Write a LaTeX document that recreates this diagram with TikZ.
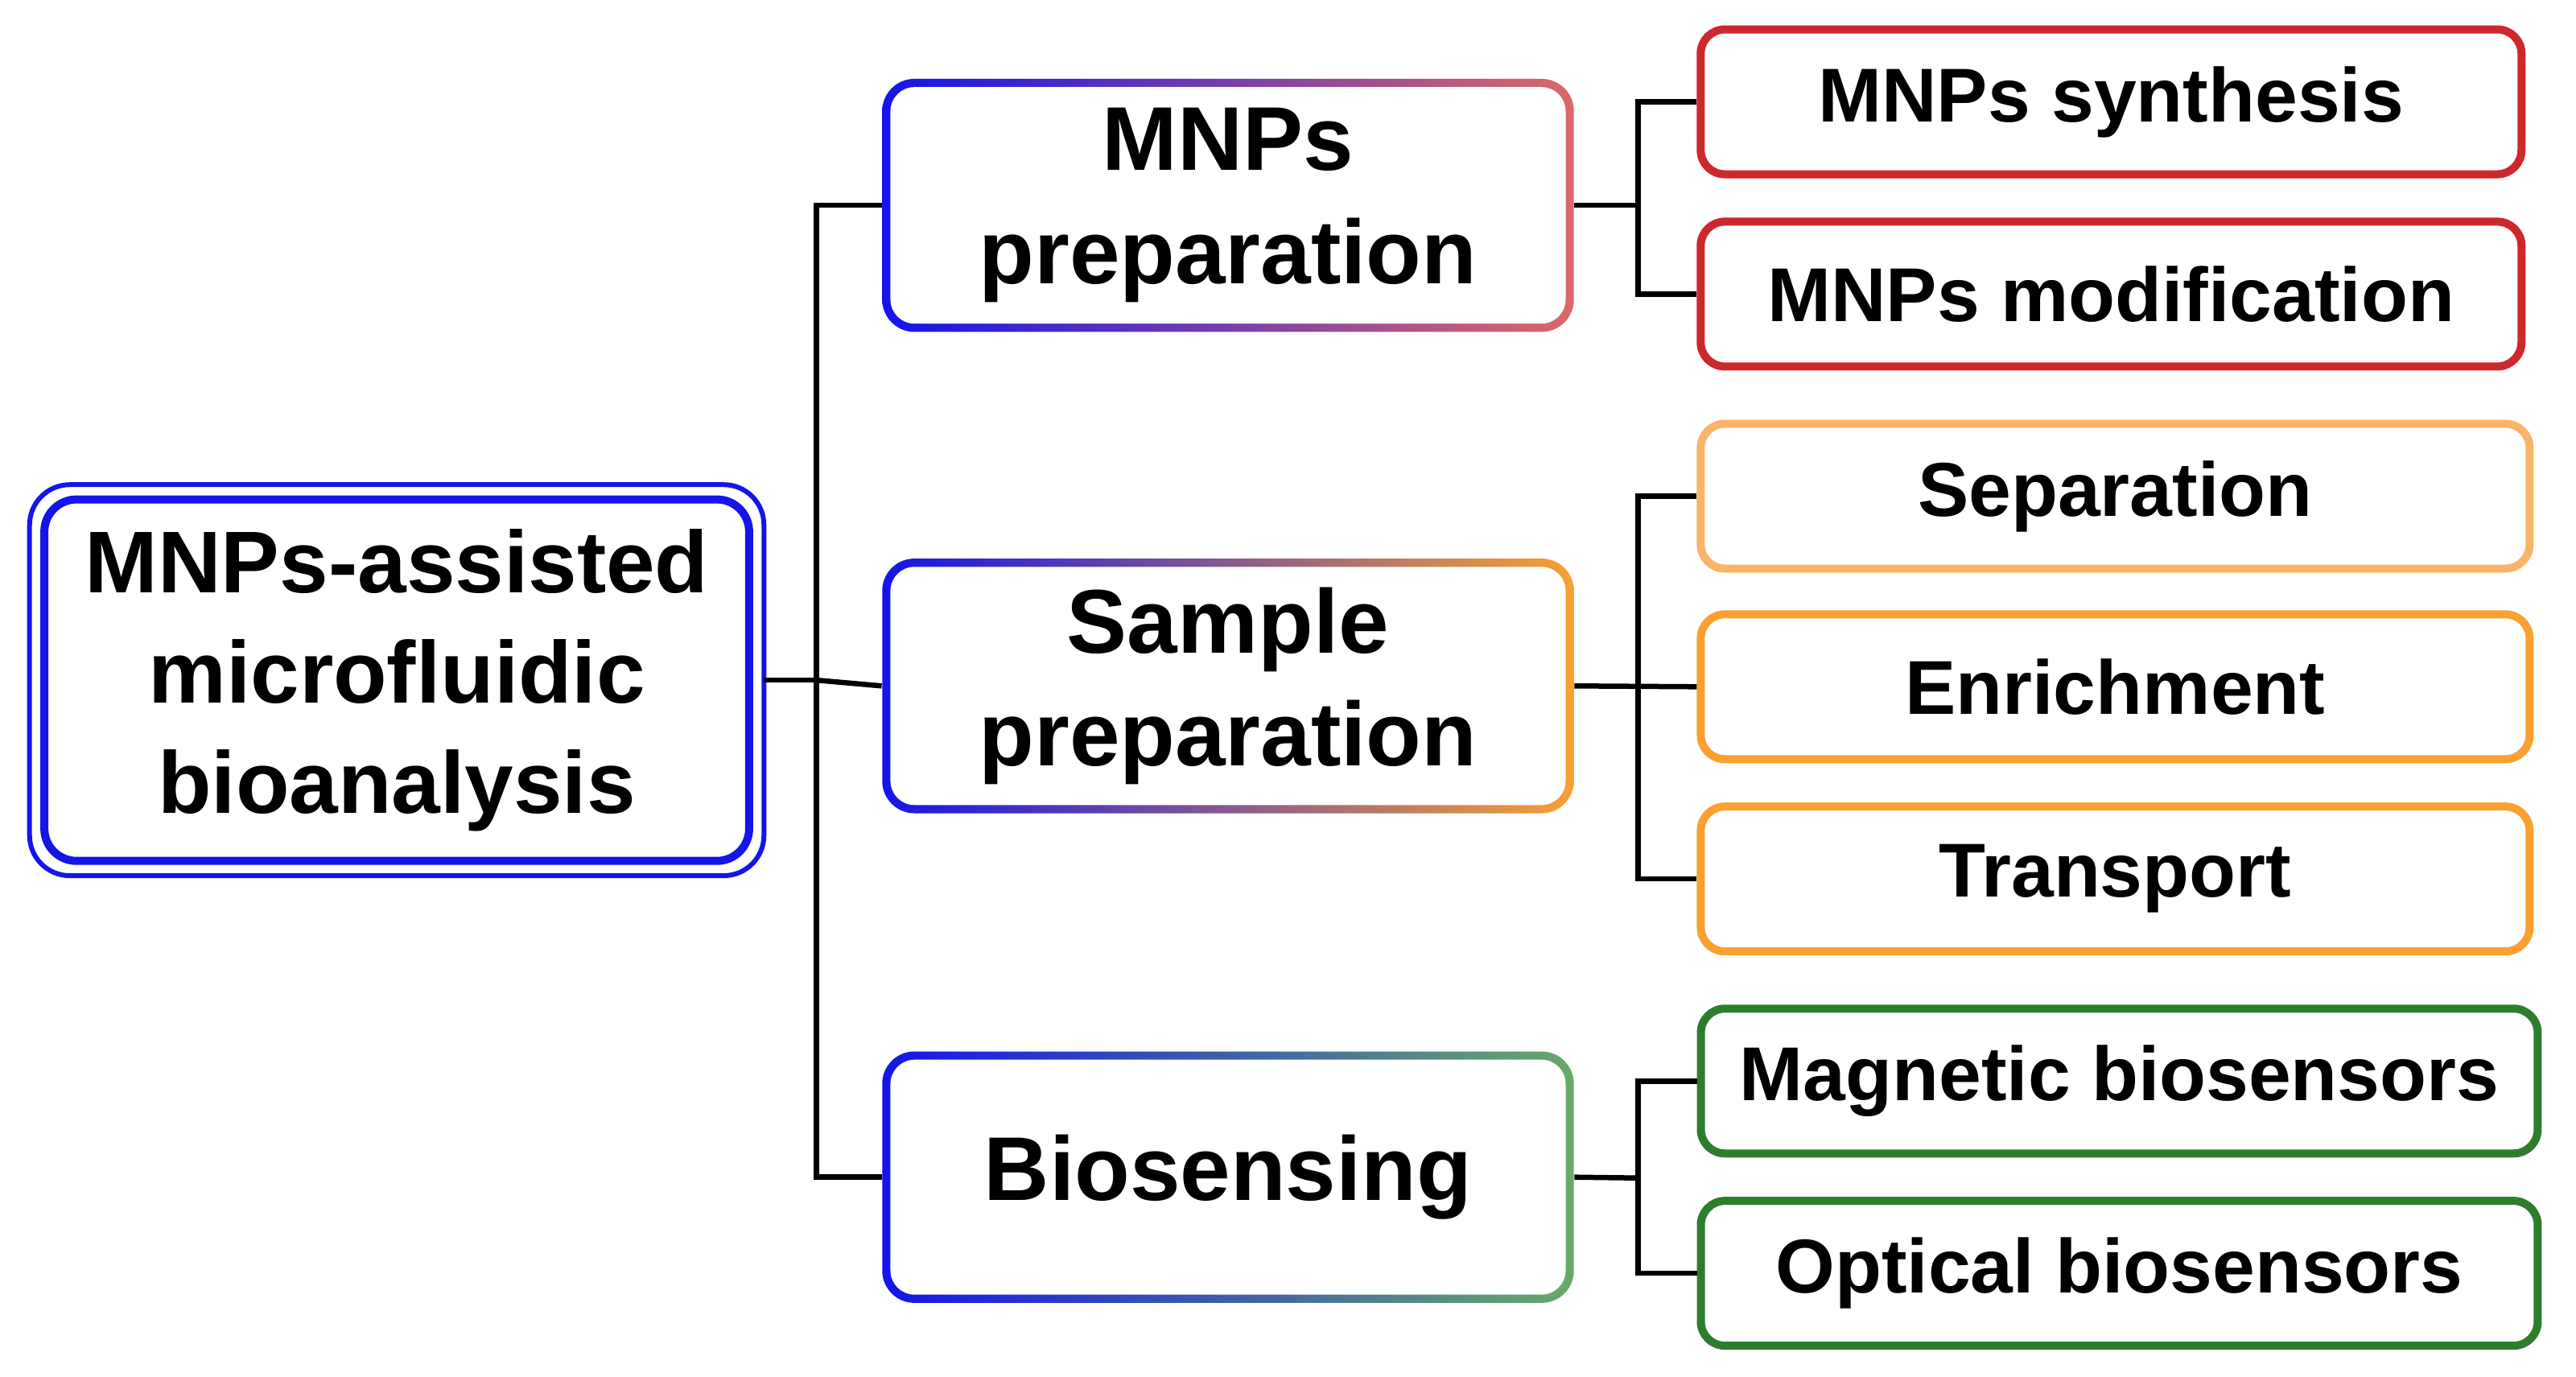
\documentclass[tikz,border=0pt]{standalone}
\usepackage{fontspec}
\setmainfont{Liberation Sans}
\begin{document}
\definecolor{bl}{RGB}{20,20,235}
\definecolor{rd}{RGB}{205,40,45}
\definecolor{pk}{RGB}{220,105,105}
\definecolor{or}{RGB}{250,160,50}
\definecolor{lor}{RGB}{250,180,105}
\definecolor{gr}{RGB}{45,125,45}
\definecolor{lgr}{RGB}{105,170,105}
\tikzset{lab/.style={font=\bfseries, align=center, inner sep=0pt},
 conn/.style={line width=0.065cm, black},
 leaf/.style={draw, line width=0.1cm, rounded corners=0.3cm}}
\newcommand\gbox[6]{%
 \shade[rounded corners=0.4cm, left color=bl, right color=#5] (#1,#2) rectangle (#3,#4);
 \fill[white, rounded corners=0.3cm] (#1+5,#2+5) rectangle (#3-5,#4-5);
 \node[lab, font=\fontsize{32}{40}\bfseries\selectfont, minimum width={(#3-#1)*0.020415cm}, minimum height={(#4-#2)*0.020415cm}] (#6) at ({(#1+#3)/2},{(#2+#4)/2}) {};}
\begin{tikzpicture}[x=0.020415cm,y=-0.020415cm]
\useasboundingbox (0,0) rectangle (1568,838);
% root
\draw[bl, line width=0.06cm, rounded corners=0.5cm] (18,295) rectangle (465,533);
\draw[bl, line width=0.1cm, rounded corners=0.4cm] (27,304) rectangle (456,524);
\node[lab, font=\fontsize{31}{39}\bfseries\selectfont, minimum width=9.1cm, minimum height=4.86cm] (root) at (241.5,414) {MNPs-assisted\\microfluidic\\bioanalysis};
% middle
\gbox{537}{48}{958}{202}{pk}{mp}
\gbox{537}{340}{958}{495}{or}{sp}
\gbox{537}{640}{958}{793}{lgr}{bs}
\node[lab, font=\fontsize{32}{40}\bfseries\selectfont] at (mp) {MNPs\\preparation};
\node[lab, font=\fontsize{32}{40}\bfseries\selectfont] at (sp) {Sample\\preparation};
\node[lab, font=\fontsize{32}{40}\bfseries\selectfont] at (bs) {Biosensing};
% leaves
\tikzset{lf/.style={leaf, lab, font=\fontsize{27}{33}\bfseries\selectfont, minimum height=1.8cm}}
\node[lf, draw=rd, minimum width=10.2cm] (l1) at (1285,62) {MNPs synthesis};
\node[lf, draw=rd, minimum width=10.2cm] (l2) at (1285,179) {MNPs modification};
\node[lf, draw=lor, minimum width=10.3cm] (l3) at (1287.5,302) {Separation};
\node[lf, draw=or, minimum width=10.3cm] (l4) at (1287.5,418) {Enrichment};
\node[lf, draw=or, minimum width=10.3cm] (l5) at (1287.5,535) {Transport};
\node[lf, draw=gr, minimum width=10.4cm] (l6) at (1290,658) {Magnetic biosensors};
\node[lf, draw=gr, minimum width=10.4cm] (l7) at (1290,775) {Optical biosensors};
% connectors
\coordinate (j0) at (497,414);
\draw[conn] (root.east) -- (j0);
\draw[conn] (mp.west) -| (j0) |- (bs.west);
\draw[conn] (j0) -- (sp.west);
\coordinate (j1) at (997,125);
\draw[conn] (mp.east) -- (j1);
\draw[conn] (l1.west) -| (j1) |- (l2.west);
\coordinate (j2) at (997,418);
\draw[conn] (sp.east) -- (l4.west);
\draw[conn] (l3.west) -| (j2) |- (l5.west);
\coordinate (j3) at (997,717);
\draw[conn] (bs.east) -- (j3);
\draw[conn] (l6.west) -| (j3) |- (l7.west);
\end{tikzpicture}
\end{document}
